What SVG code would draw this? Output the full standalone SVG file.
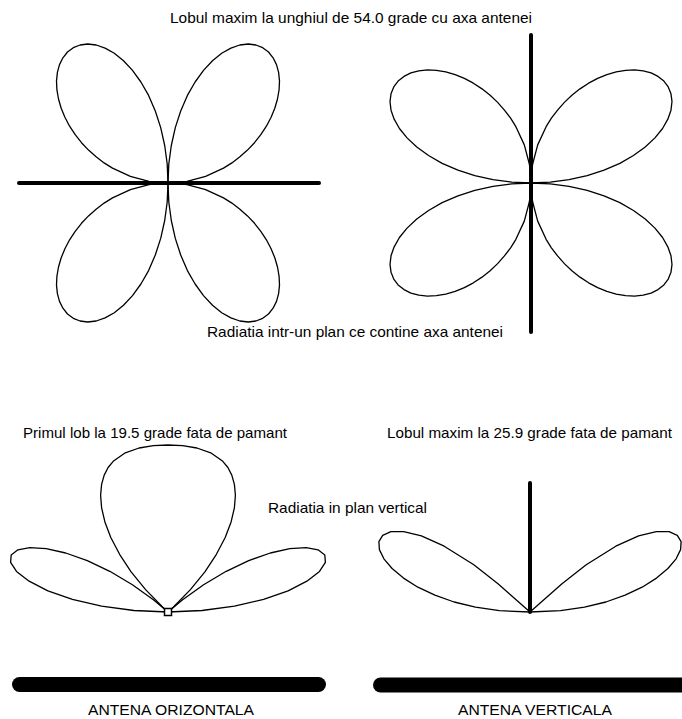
<svg xmlns="http://www.w3.org/2000/svg" xmlns:xlink="http://www.w3.org/1999/xlink" width="682" height="719" viewBox="0 0 682 719">
<style>
.lobe{fill:none;stroke:#000;stroke-width:1.3;stroke-linejoin:round;vector-effect:non-scaling-stroke}
.ax{stroke:#000;stroke-width:4;stroke-linecap:round}
.bar{stroke:#000;stroke-width:15;stroke-linecap:round}
text{font-family:"Liberation Sans Narrow","Liberation Sans",Arial,sans-serif;font-size:15px;fill:#000}
</style>
<defs>
<path id="lobe4" class="lobe" d="M0,0 L9.5,-0.4 L19,-1.7 L37.6,-6.6 L55.5,-14.9 L63.9,-20.1 L71.9,-26.2 L79.5,-32.9 L86.5,-40.3 L92.8,-48.3 L98.4,-56.8 L103.1,-65.7 L106.8,-74.8 L109.5,-84 L111.1,-93.3 L111.5,-102.1 L110.6,-110.6 L108.5,-118.4 L105.1,-125.2 L100.5,-131 L94.7,-135.3 L87.9,-138 L80.3,-139 L71.8,-138 L62.9,-134.9 L53.7,-129.7 L44.5,-122.2 L35.5,-112.6 L27.1,-101 L19.4,-87.6 L12.7,-72 L7.3,-55.4 L3.3,-37.5 L0.8,-19 Z"/>
<path id="sideH" class="lobe" d="M0,0 L34.1,-1.5 L66.4,-5.8 L95.6,-12.6 L120.1,-21.2 L138.9,-30.8 L151.5,-40.6 L157.4,-49.6 L156.8,-57.1 L150.1,-62.2 L138.2,-64.4 L121.8,-63.4 L102.3,-59 L80.7,-51.4 L58.2,-40.7 L35.6,-27.3 L14.3,-12 Z"/>
<path id="sideV" class="lobe" d="M0,0 L30.6,-1.3 L54.5,-4.8 L75.9,-10 L95.1,-16.8 L112.1,-24.8 L126.5,-33.9 L137.9,-43.5 L146.1,-53.2 L150.6,-62.4 L151.1,-70.4 L147.3,-76.7 L139.1,-80.3 L126.3,-80.4 L108.6,-76.1 L85.8,-65.8 L56.2,-47.2 L32,-28.3 Z"/>
</defs>

<g id="title"><text x="170" y="23" textLength="362" lengthAdjust="spacingAndGlyphs">Lobul maxim la unghiul de 54.0 grade cu axa antenei</text></g>

<g id="pattern-horizontal-top">
<use xlink:href="#lobe4" transform="translate(168,183)"/>
<use xlink:href="#lobe4" transform="translate(168,183) scale(-1,1)"/>
<use xlink:href="#lobe4" transform="translate(168,183) scale(1,-1)"/>
<use xlink:href="#lobe4" transform="translate(168,183) scale(-1,-1)"/>
<line class="ax" x1="19" y1="183" x2="319" y2="183"/>
</g>

<g id="pattern-vertical-top">
<g transform="translate(531,183) rotate(90) scale(1.0144)">
<use xlink:href="#lobe4"/>
<use xlink:href="#lobe4" transform="scale(-1,1)"/>
<use xlink:href="#lobe4" transform="scale(1,-1)"/>
<use xlink:href="#lobe4" transform="scale(-1,-1)"/>
</g>
<line class="ax" x1="531" y1="35" x2="531" y2="332"/>
</g>

<g id="label-plane"><text x="207" y="337" textLength="296" lengthAdjust="spacingAndGlyphs">Radiatia intr-un plan ce contine axa antenei</text></g>

<g id="label-first-lobe"><text x="23" y="438" textLength="264" lengthAdjust="spacingAndGlyphs">Primul lob la 19.5 grade fata de pamant</text></g>
<g id="label-max-lobe"><text x="387" y="438" textLength="285" lengthAdjust="spacingAndGlyphs">Lobul maxim la 25.9 grade fata de pamant</text></g>
<g id="label-vertical-plane"><text x="268" y="513" textLength="159" lengthAdjust="spacingAndGlyphs">Radiatia in plan vertical</text></g>

<g id="pattern-horizontal-bottom">
<path class="lobe" transform="translate(168,612)" d="M0,0 L5.2,-4.7 L22.4,-22.4 L36.9,-40.2 L48.4,-57.7 L57.2,-74.5 L63.1,-90.1 L66.4,-104.2 L67.4,-116.8 L66.4,-127.6 L63.8,-136.9 L59.9,-144.5 L54.8,-150.7 L42.7,-159.2 L28.9,-164 L14.6,-166.4 L0,-167 L-14.6,-166.4 L-28.9,-164 L-42.7,-159.2 L-54.8,-150.7 L-59.9,-144.5 L-63.8,-136.9 L-66.4,-127.6 L-67.4,-116.8 L-66.4,-104.2 L-63.1,-90.1 L-57.2,-74.5 L-48.4,-57.7 L-36.9,-40.2 L-22.4,-22.4 L-5.2,-4.7 Z"/>
<use xlink:href="#sideH" transform="translate(168,612)"/>
<use xlink:href="#sideH" transform="translate(168,612) scale(-1,1)"/>
<rect x="164.5" y="608.5" width="7" height="7" fill="#fff" stroke="#000" stroke-width="1.5"/>
</g>

<g id="pattern-vertical-bottom">
<use xlink:href="#sideV" transform="translate(530,612)"/>
<use xlink:href="#sideV" transform="translate(530,612) scale(-1,1)"/>
<line class="ax" x1="530" y1="483" x2="530" y2="612"/>
</g>

<g id="ground-horizontal">
<line class="bar" x1="19.5" y1="684.5" x2="318.5" y2="684.5"/>
<text x="88" y="715" textLength="166" lengthAdjust="spacingAndGlyphs">ANTENA ORIZONTALA</text>
</g>
<g id="ground-vertical">
<line class="bar" x1="380.5" y1="685" x2="700" y2="685"/>
<text x="458" y="715" textLength="154" lengthAdjust="spacingAndGlyphs">ANTENA VERTICALA</text>
</g>
</svg>
